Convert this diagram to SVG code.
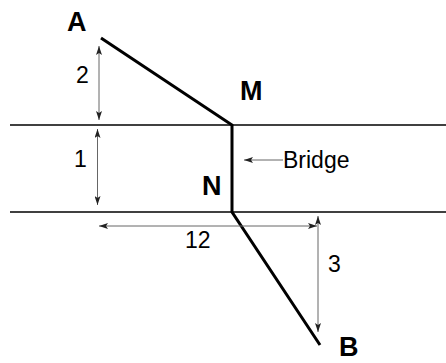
<svg xmlns="http://www.w3.org/2000/svg" width="446" height="363" viewBox="0 0 446 363">
<style>
.thin{stroke:#000;stroke-width:1.5;fill:none}
.thick{stroke:#000;stroke-width:3;fill:none}
.dim{stroke:#666;stroke-width:1;fill:none;marker-start:url(#ah);marker-end:url(#ah)}
.ptr{stroke:#666;stroke-width:1;fill:none;marker-end:url(#ah)}
.lbl{font-family:"Liberation Sans",Arial,sans-serif;font-size:23px;fill:#000}
.big{font-family:"Liberation Sans",Arial,sans-serif;font-size:27px;font-weight:bold;fill:#000}
</style>
<defs>
<marker id="ah" viewBox="0 0 9 6" refX="9" refY="3" markerWidth="9" markerHeight="6" markerUnits="userSpaceOnUse" orient="auto-start-reverse">
<path d="M0,0 L9,3 L0,6 L2,3 z" fill="#222"/>
</marker>
</defs>
<rect width="446" height="363" fill="#fff"/>
<g id="river">
<line class="thin" x1="10" y1="125" x2="446" y2="125"/>
<line class="thin" x1="10" y1="212" x2="446" y2="212"/>
</g>
<g id="connectors">
<polyline class="thick" points="101,38 232,125 232,212 320,345"/>
<line class="dim" x1="99" y1="46" x2="99" y2="120"/>
<line class="dim" x1="97.5" y1="129" x2="97.5" y2="205"/>
<line class="dim" x1="99" y1="226" x2="317" y2="226"/>
<line class="dim" x1="318" y1="216" x2="318" y2="332"/>
<line class="ptr" x1="283" y1="160" x2="244" y2="160"/>
</g>
<g id="A"><text class="big" x="67" y="31">A</text></g>
<g id="M"><text class="big" x="240" y="100">M</text></g>
<g id="N"><text class="big" x="202" y="195">N</text></g>
<g id="B"><text class="big" x="339" y="356">B</text></g>
<g id="labels">
<text class="lbl" x="76" y="83">2</text>
<text class="lbl" x="74" y="167">1</text>
<text class="lbl" x="185" y="248">12</text>
<text class="lbl" x="328" y="272">3</text>
<text class="lbl" x="283" y="168">Bridge</text>
</g>
</svg>
